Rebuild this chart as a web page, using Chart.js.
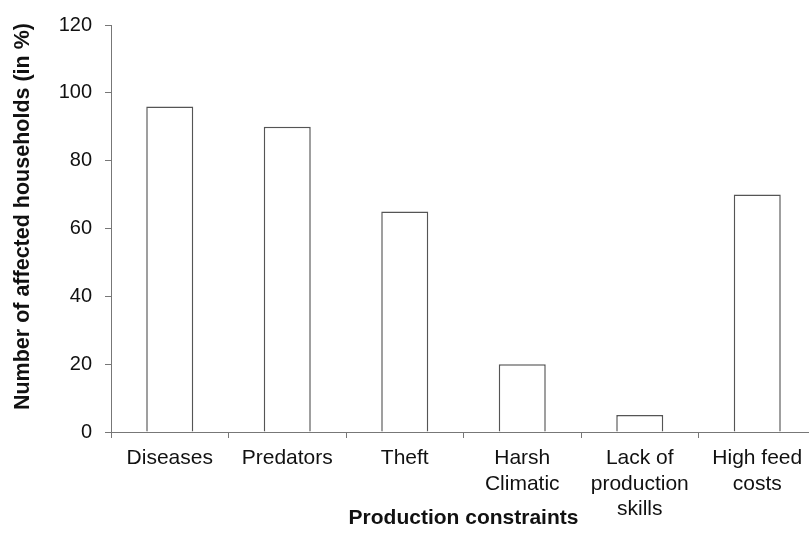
<!DOCTYPE html>
<html lang="en">
  <head>
    <meta charset="UTF-8" />
    <title>Production constraints</title>
    <script src="https://cdn.jsdelivr.net/npm/chart.js@4"></script>
    <style>
      html, body { margin: 0; padding: 0; background: #fff; overflow: hidden; }
      #wrap { width: 816px; height: 533px; }
    </style>
  </head>
  <body>
    <div id="wrap"><canvas id="myChart" width="816" height="533"></canvas></div>

    <script>
      const categories = [
        'Diseases',
        'Predators',
        'Theft',
        ['Harsh', 'Climatic'],
        ['Lack of', 'production', 'skills'],
        ['High feed', 'costs']
      ];
      const affected = [96, 90, 65, 20, 5, 70];
      const yTicks = { min: 0, max: 120, step: 20 };

      const font = 'Liberation Sans, Arial, Helvetica, sans-serif';
      const axisColor = '#777';

      const ctx = document.getElementById('myChart').getContext('2d');
      const myChart = new Chart(ctx, {
        type: 'bar',
        data: {
          labels: categories,
          datasets: [{
            label: 'Number of affected households (in %)',
            data: affected,
            backgroundColor: '#ffffff',
            borderColor: '#555',
            borderWidth: 1.5,
            categoryPercentage: 1.0,
            barPercentage: 0.4
          }]
        },
        options: {
          responsive: false,
          animation: false,
          layout: { padding: { top: 19, right: 0, left: 0, bottom: 0 } },
          plugins: {
            legend: { display: false },
            tooltip: { enabled: false }
          },
          scales: {
            x: {
              grid: {
                drawOnChartArea: false,
                drawTicks: true,
                tickLength: 6,
                color: axisColor
              },
              border: { color: axisColor, width: 1 },
              ticks: {
                color: '#111',
                padding: 8,
                maxRotation: 0,
                autoSkip: false,
                font: { family: font, size: 21 }
              },
              title: {
                display: true,
                text: 'Production constraints',
                color: '#111',
                padding: { top: 0, bottom: 2 },
                font: { family: font, size: 21, weight: 'bold' }
              },
              afterFit(scale) { scale.height = 101; }
            },
            y: {
              min: yTicks.min,
              max: yTicks.max,
              grid: {
                drawOnChartArea: false,
                drawTicks: true,
                tickLength: 6,
                color: axisColor
              },
              border: { color: axisColor, width: 1 },
              ticks: {
                stepSize: yTicks.step,
                color: '#111',
                padding: 13,
                font: { family: font, size: 20 }
              },
              title: {
                display: true,
                text: '\u00a0\u00a0\u00a0\u00a0Number of affected households (in %)',
                color: '#111',
                padding: { top: 10, bottom: 0 },
                font: { family: font, size: 21.5, weight: 'bold' }
              },
              afterFit(scale) { scale.width = 111; }
            }
          }
        }
      });
    </script>
  </body>
</html>
